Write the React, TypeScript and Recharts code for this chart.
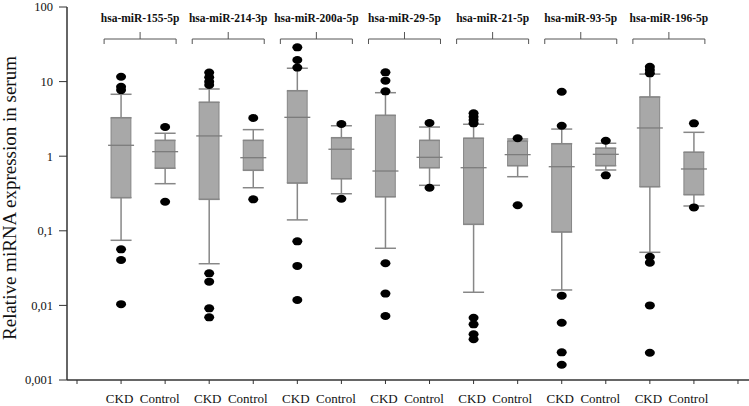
import { Bar, ComposedChart, ErrorBar, Scatter, XAxis, YAxis } from "recharts";

const GROUPS = [
  "hsa-miR-155-5p",
  "hsa-miR-214-3p",
  "hsa-miR-200a-5p",
  "hsa-miR-29-5p",
  "hsa-miR-21-5p",
  "hsa-miR-93-5p",
  "hsa-miR-196-5p",
];
const CONDITIONS = ["CKD", "Control"];

// one value per box: CKD then Control for each miRNA
const WHISKER_LOW = [0.0746, 0.428, 0.0362, 0.378, 0.14, 0.314, 0.0583, 0.407, 0.015, 0.531, 0.0161, 0.653, 0.0515, 0.215];
const Q1 = [0.278, 0.689, 0.264, 0.647, 0.437, 0.499, 0.286, 0.701, 0.122, 0.746, 0.0964, 0.746, 0.39, 0.305];
const MEDIAN = [1.4, 1.15, 1.87, 0.955, 3.32, 1.24, 0.633, 0.966, 0.701, 1.05, 0.723, 1.06, 2.39, 0.674];
const Q3 = [3.28, 1.63, 5.28, 1.63, 7.55, 1.77, 3.53, 1.63, 1.74, 1.6, 1.47, 1.28, 6.22, 1.13];
const WHISKER_HIGH = [6.76, 2.03, 7.96, 2.27, 15.1, 2.56, 7.1, 2.46, 2.68, 1.7, 2.31, 1.49, 12.6, 2.09];
const OUTLIERS = [
  [11.6, 8.5, 7.7, 0.0565, 0.0406, 0.0104],
  [2.46, 0.245],
  [13.2, 11.4, 9.97, 9.0, 0.0269, 0.0208, 0.00914, 0.00692],
  [3.25, 0.264],
  [28.8, 19.5, 15.4, 0.0723, 0.0338, 0.0118],
  [2.7, 0.269],
  [13.3, 10.3, 7.41, 0.0367, 0.0144, 0.0072],
  [2.79, 0.378],
  [3.76, 3.38, 3.06, 2.76, 0.00684, 0.00558, 0.0041, 0.00352],
  [1.74, 0.22],
  [7.32, 2.56, 0.0135, 0.00586, 0.00235, 0.0016],
  [1.61, 0.554],
  [15.8, 14.3, 12.9, 0.0449, 0.0374, 0.01, 0.00232],
  [2.76, 0.206],
];

const Y_TICKS = [0.001, 0.01, 0.1, 1, 10, 100];
const X_TICKS = Array.from({ length: 16 }, (_, k) => k);

const FONT = "'Liberation Serif', 'Times New Roman', serif";
const AXIS = "#333";
const WHISKER = "#878787";

const boxes = MEDIAN.map((m, b) => ({ x: b + 1, y: m, box: [Q1[b], Q3[b]] }));
// whiskers only outside the box: below Q1 and above Q3
const whiskers = [
  ...Q1.map((q, b) => ({ x: b + 1, y: q, err: [q - WHISKER_LOW[b], 0] })),
  ...Q3.map((q, b) => ({ x: b + 1, y: q, err: [0, WHISKER_HIGH[b] - q] })),
];
const medians = MEDIAN.map((m, b) => ({ x: b + 1, y: m }));
const outliers = OUTLIERS.flatMap((vals, b) => vals.map((v) => ({ x: b + 1, y: v })));
const brackets = GROUPS.map((name, i) => ({ x: 2 * i + 1.5, y: 100, name }));

function XTick({ x, y, payload }: any) {
  const k = payload.value;
  if (k < 1 || k > 14) return null;
  const label = CONDITIONS[(k - 1) % 2];
  const shift = label === "CKD" ? -1.5 : -5.5;
  return (
    <text x={x + shift} y={y + 19} textAnchor="middle" fontFamily={FONT} fontSize={13} fill="#111">
      {label}
    </text>
  );
}

function Bracket({ cx, cy, payload }: any) {
  const c = cx - 3;
  return (
    <g>
      <path
        d={`M${c - 36},${cy + 37} V${cy + 32} H${c + 36} V${cy + 37} M${c},${cy + 32} V${cy + 25}`}
        fill="none"
        stroke="#555"
        strokeWidth={1}
      />
      <text x={c} y={cy + 15} textAnchor="middle" fontFamily={FONT} fontWeight="bold" fontSize={11.5} fill="#111">
        {payload.name}
      </text>
    </g>
  );
}

export default function App() {
  return (
    <div style={{ position: "absolute", left: 0, top: 0, width: 749, height: 406, background: "#fff" }}>
      <ComposedChart width={749} height={406} data={boxes} margin={{ top: 7, right: 0, bottom: 0, left: 0 }}>
        <XAxis
          type="number"
          dataKey="x"
          domain={[-0.227, 15.25]}
          allowDataOverflow
          ticks={X_TICKS}
          interval={0}
          height={26}
          tickSize={4}
          tickMargin={0}
          tick={<XTick />}
          axisLine={{ stroke: AXIS, strokeWidth: 1.5 }}
          tickLine={{ stroke: AXIS }}
        />
        <YAxis
          type="number"
          dataKey="y"
          scale="log"
          domain={[0.001, 100]}
          allowDataOverflow
          ticks={Y_TICKS}
          interval={0}
          width={67}
          tickSize={8}
          tickMargin={6}
          tickFormatter={(v) => String(v).replace(".", ",")}
          tick={{ fill: "#111", fontSize: 12.5, fontFamily: FONT }}
          axisLine={{ stroke: AXIS, strokeWidth: 1.5 }}
          tickLine={{ stroke: AXIS }}
          label={{
            content: () => (
              <text
                x={16}
                y={198}
                transform="rotate(-90 16 198)"
                textAnchor="middle"
                fontFamily={FONT}
                fontSize={19}
                fill="#111"
              >
                Relative miRNA expression in serum
              </text>
            ),
          }}
        />
        <Bar dataKey="box" barSize={27} fill="#a8a8a8" stroke="#868686" strokeWidth={1} isAnimationActive={false} />
        <Scatter data={whiskers} shape={() => <g />} isAnimationActive={false}>
          <ErrorBar dataKey="err" direction="y" width={10.5} stroke={WHISKER} strokeWidth={1.5} />
        </Scatter>
        <Scatter
          data={medians}
          isAnimationActive={false}
          shape={({ cx, cy }: any) => <line x1={cx - 13} x2={cx + 13} y1={cy} y2={cy} stroke="#7c7c7c" strokeWidth={1.3} />}
        />
        <Scatter
          data={outliers}
          isAnimationActive={false}
          shape={({ cx, cy }: any) => <ellipse cx={cx} cy={cy} rx={5} ry={4} fill="#000" />}
        />
        <Scatter data={brackets} isAnimationActive={false} shape={(p: any) => <Bracket {...p} />} />
      </ComposedChart>
    </div>
  );
}
